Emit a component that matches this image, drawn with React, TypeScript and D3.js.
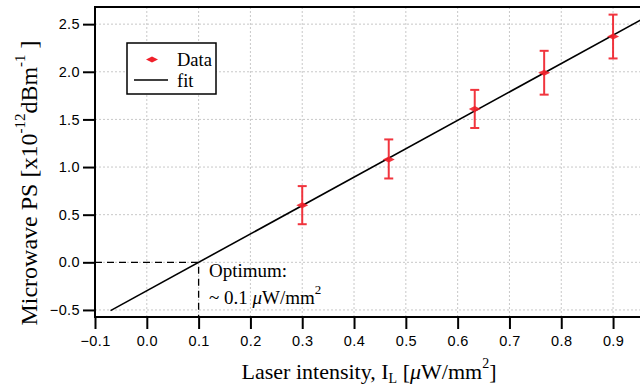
import React, { useRef, useEffect } from "react";
import * as d3 from "d3";

// measured points
const intensity = [0.3, 0.467, 0.633, 0.767, 0.9];
const mwPS = [0.6, 1.08, 1.61, 1.99, 2.37];
const errUp = [0.2, 0.21, 0.2, 0.23, 0.23];
const errDown = [0.2, 0.2, 0.2, 0.23, 0.23];

// linear fit
const fitSlope = 2.98;
const fitIntercept = -0.298;
const fitRange = [-0.07, 0.96];

const xTicks = [-0.1, 0, 0.1, 0.2, 0.3, 0.4, 0.5, 0.6, 0.7, 0.8, 0.9];
const yTicks = [-0.5, 0, 0.5, 1.0, 1.5, 2.0, 2.5];
const optimumX = 0.1;

const App = () => {
    const svgRef = useRef(null);
    const width = 640;
    const height = 385;
    const left = 95, right = 640, top = 7, bottom = 317;
    const serif = "Liberation Serif, Times New Roman, serif";

    useEffect(() => {
        const svg = d3.select(svgRef.current);
        svg.selectAll("*").remove();

        const x = d3.scaleLinear().domain([-0.1, 0.952]).range([left, right]);
        const y = d3.scaleLinear().domain([-0.574, 2.68]).range([bottom, top]);

        svg.append("defs").append("clipPath").attr("id", "plotclip")
            .append("rect").attr("x", left).attr("y", top)
            .attr("width", right - left).attr("height", bottom - top);

        // grid
        const grid = svg.append("g");
        grid.selectAll(".gx").data(xTicks.slice(1)).join("line")
            .attr("x1", d => x(d)).attr("x2", d => x(d))
            .attr("y1", top).attr("y2", bottom)
            .attr("stroke", "#c8c8c8").attr("stroke-width", 1)
            .attr("stroke-dasharray", "2,2");
        grid.selectAll(".gy").data(yTicks).join("line")
            .attr("x1", left).attr("x2", right)
            .attr("y1", d => y(d)).attr("y2", d => y(d))
            .attr("stroke", "#c8c8c8").attr("stroke-width", 1)
            .attr("stroke-dasharray", "2,2");

        // axes
        const xAxis = svg.append("g")
            .attr("transform", `translate(0,${bottom})`)
            .call(d3.axisBottom(x).tickValues(xTicks).tickFormat(d3.format(".1f")).tickSizeInner(12).tickSizeOuter(0).tickPadding(7));
        const yAxis = svg.append("g")
            .attr("transform", `translate(${left},0)`)
            .call(d3.axisLeft(y).tickValues(yTicks).tickFormat(d3.format(".1f")).tickSizeInner(12).tickSizeOuter(0).tickPadding(3));
        [xAxis, yAxis].forEach(a => {
            a.select(".domain").attr("stroke", "#000").attr("stroke-width", 2);
            a.selectAll(".tick line").attr("stroke", "#000").attr("stroke-width", 2);
            a.selectAll("text").attr("font-family", "Liberation Sans, Arial, sans-serif")
                .attr("font-size", 14.5).attr("letter-spacing", 0.4).attr("fill", "#000");
        });
        xAxis.select(".domain").attr("d", `M${left},0H${right}`);
        yAxis.select(".domain").attr("d", `M0,${top - 1}V${bottom + 1}`);

        // top frame
        svg.append("line").attr("x1", left - 1).attr("x2", right)
            .attr("y1", top).attr("y2", top)
            .attr("stroke", "#000").attr("stroke-width", 2);

        // optimum dashed guides
        svg.append("path")
            .attr("d", `M${x(-0.1)},${y(0)}H${x(optimumX)}V${bottom}`)
            .attr("fill", "none").attr("stroke", "#000").attr("stroke-width", 1.3)
            .attr("stroke-dasharray", "7,5");

        // fit line
        svg.append("line").attr("clip-path", "url(#plotclip)")
            .attr("x1", x(fitRange[0])).attr("y1", y(fitSlope * fitRange[0] + fitIntercept))
            .attr("x2", x(fitRange[1])).attr("y2", y(fitSlope * fitRange[1] + fitIntercept))
            .attr("stroke", "#000").attr("stroke-width", 1.6);

        // error bars
        const red = "#f0202a";
        const eb = svg.append("g").attr("stroke", red).attr("stroke-width", 2).attr("opacity", 0.9);
        intensity.forEach((xi, i) => {
            const cx = x(xi);
            const y1 = y(mwPS[i] + errUp[i]);
            const y2 = y(mwPS[i] - errDown[i]);
            eb.append("line").attr("x1", cx).attr("x2", cx).attr("y1", y1).attr("y2", y2);
            eb.append("line").attr("x1", cx - 4.5).attr("x2", cx + 4.5).attr("y1", y1).attr("y2", y1);
            eb.append("line").attr("x1", cx - 4.5).attr("x2", cx + 4.5).attr("y1", y2).attr("y2", y2);
        });

        // markers
        const diamond = (cx, cy) => `M${cx - 6},${cy}L${cx},${cy - 3}L${cx + 6},${cy}L${cx},${cy + 3}Z`;
        svg.append("g").selectAll("path").data(intensity).join("path")
            .attr("d", (d, i) => diamond(x(d), y(mwPS[i])))
            .attr("fill", red).attr("opacity", 0.9);

        // legend
        const lg = svg.append("g");
        lg.append("rect").attr("x", 127).attr("y", 43).attr("width", 89).attr("height", 51)
            .attr("fill", "#fff").attr("stroke", "#000").attr("stroke-width", 1.5);
        lg.append("path").attr("d", diamond(152, 59.5)).attr("fill", red);
        lg.append("line").attr("x1", 134).attr("x2", 168).attr("y1", 80).attr("y2", 80)
            .attr("stroke", "#000").attr("stroke-width", 1.5);
        lg.append("text").attr("x", 177).attr("y", 66).text("Data");
        lg.append("text").attr("x", 177).attr("y", 87).text("fit");
        lg.selectAll("text").attr("font-family", serif)
            .attr("font-size", 18.5).attr("fill", "#000");

        // annotation
        const an = svg.append("g").attr("font-family", serif)
            .attr("font-size", 19).attr("fill", "#000");
        an.append("text").attr("x", 209).attr("y", 277).text("Optimum:");
        const t2 = an.append("text").attr("x", 209).attr("y", 304);
        t2.append("tspan").text("~ 0.1 ");
        t2.append("tspan").attr("font-style", "italic").text("μ");
        t2.append("tspan").text("W/mm");
        t2.append("tspan").attr("font-size", 13).attr("dy", -10).text("2");

        // x title
        const xt = svg.append("text").attr("x", 369).attr("y", 379)
            .attr("text-anchor", "middle")
            .attr("font-family", serif)
            .attr("font-size", 22).attr("fill", "#000");
        xt.append("tspan").text("Laser intensity, I");
        xt.append("tspan").attr("font-size", 14).attr("dy", 4).text("L");
        xt.append("tspan").attr("dy", -4).text(" [");
        xt.append("tspan").attr("font-style", "italic").text("μ");
        xt.append("tspan").text("W/mm");
        xt.append("tspan").attr("font-size", 14).attr("dy", -11).text("2");
        xt.append("tspan").attr("dy", 11).text("]");

        // y title
        const yt = svg.append("text")
            .attr("transform", `translate(37,183) rotate(-90)`)
            .attr("text-anchor", "middle")
            .attr("font-family", serif)
            .attr("font-size", 24).attr("fill", "#000");
        yt.append("tspan").text("Microwave PS  [x10");
        yt.append("tspan").attr("font-size", 15).attr("dy", -12).text("-12");
        yt.append("tspan").attr("dy", 12).text("dBm");
        yt.append("tspan").attr("font-size", 15).attr("dy", -12).text("-1");
        yt.append("tspan").attr("dy", 12).text(" ]");
    }, []);

    return (
        <svg ref={svgRef} width={width} height={height}
            style={{ position: "absolute", left: 0, top: 0, background: "#fff" }}>
        </svg>
    );
};

export default App;
